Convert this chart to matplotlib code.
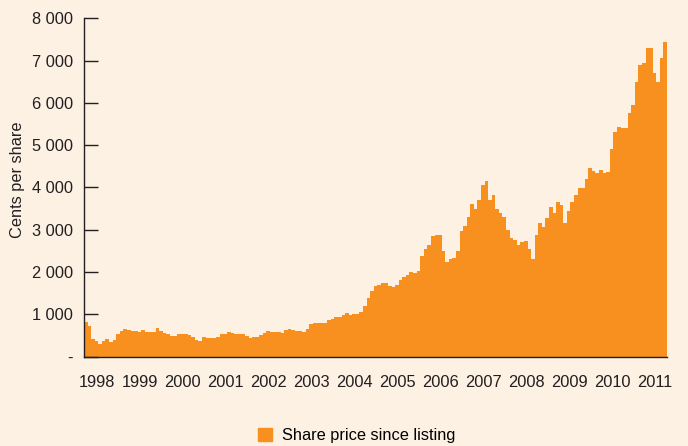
import numpy as np
import matplotlib
matplotlib.use("Agg")
import matplotlib.pyplot as plt
from matplotlib.patches import Patch

# monthly share price (cents), starting late 1997
start_year = 1997.70
prices = [
    820, 730, 410, 380, 297, 380, 410, 353, 400, 530,
    610, 645, 630, 605, 605, 580, 630, 575, 590, 575,
    685, 600, 560, 527, 490, 487, 535, 535, 535, 520,
    470, 393, 370, 460, 440, 432, 450, 471, 527, 530,
    575, 560, 527, 527, 530, 490, 450, 463, 463, 500,
    565, 598, 590, 582, 582, 570, 621, 645, 630, 612,
    600, 589, 660, 763, 795, 795, 795, 800, 860, 900,
    935, 936, 990, 1024, 990, 1000, 1010, 1045, 1200, 1380,
    1550, 1670, 1693, 1730, 1733, 1680, 1650, 1693, 1812, 1880,
    1930, 2008, 1980, 2032, 2380, 2537, 2640, 2852, 2868, 2868,
    2500, 2230, 2300, 2325, 2500, 2970, 3100, 3300, 3600, 3500,
    3700, 4050, 4150, 3700, 3820, 3500, 3400, 3300, 3000, 2800,
    2750, 2650, 2700, 2740, 2550, 2320, 2870, 3153, 3060, 3270,
    3545, 3400, 3650, 3585, 3153, 3450, 3663, 3820, 3980, 3980,
    4200, 4450, 4400, 4334, 4420, 4350, 4370, 4900, 5300, 5420,
    5400, 5400, 5750, 5950, 6500, 6900, 6950, 7300, 7300, 6700,
    6500, 7050, 7450,
]
years = list(range(1998, 2012))
y_ticks = [0, 1000, 2000, 3000, 4000, 5000, 6000, 7000, 8000]
y_labels = ["-", "1 000", "2 000", "3 000", "4 000", "5 000", "6 000", "7 000", "8 000"]

bg = "#FDF1E4"
orange = "#F7901E"
dark = "#231F20"
fs = 11.8

plt.rcParams["font.family"] = ["Liberation Sans", "DejaVu Sans"]

fig = plt.figure(figsize=(6.88, 4.46), dpi=100, facecolor=bg)
ax = fig.add_axes([0.1221, 0.2004, 0.8474, 0.7586], facecolor=bg)

edges = start_year + np.arange(len(prices) + 1) / 12
ax.stairs(prices, edges, fill=True, color=orange, linewidth=0)

ax.set_xlim(edges[0], edges[-1])
ax.set_ylim(0, 8000)

for side in ["top", "right"]:
    ax.spines[side].set_visible(False)
for side in ["left", "bottom"]:
    ax.spines[side].set_color(dark)
    ax.spines[side].set_linewidth(1.0)

ax.set_yticks(y_ticks)
ax.set_yticklabels(y_labels)
ax.tick_params(axis="y", direction="in", length=10, width=1, color=dark,
               labelsize=fs, pad=8, labelcolor=dark)

ax.set_xticks(years)
ax.set_xticklabels([str(y) for y in years])
ax.tick_params(axis="x", length=0, labelsize=fs, pad=13, labelcolor=dark)
# single small tick at the first year
ax.set_xticks([1998], minor=True)
ax.tick_params(axis="x", which="minor", direction="out", length=3, width=1, color=dark)

ax.set_ylabel("Cents per share", fontsize=fs, color=dark)
ax.yaxis.set_label_coords(-0.102, 0.524)

fig.legend(handles=[Patch(color=orange, label="Share price since listing")],
           loc="center", bbox_to_anchor=(0.518, 0.024), frameon=False,
           fontsize=fs, handlelength=0.85, handleheight=0.85, handletextpad=0.6)

fig.savefig("out.png", dpi=100, facecolor=bg)
